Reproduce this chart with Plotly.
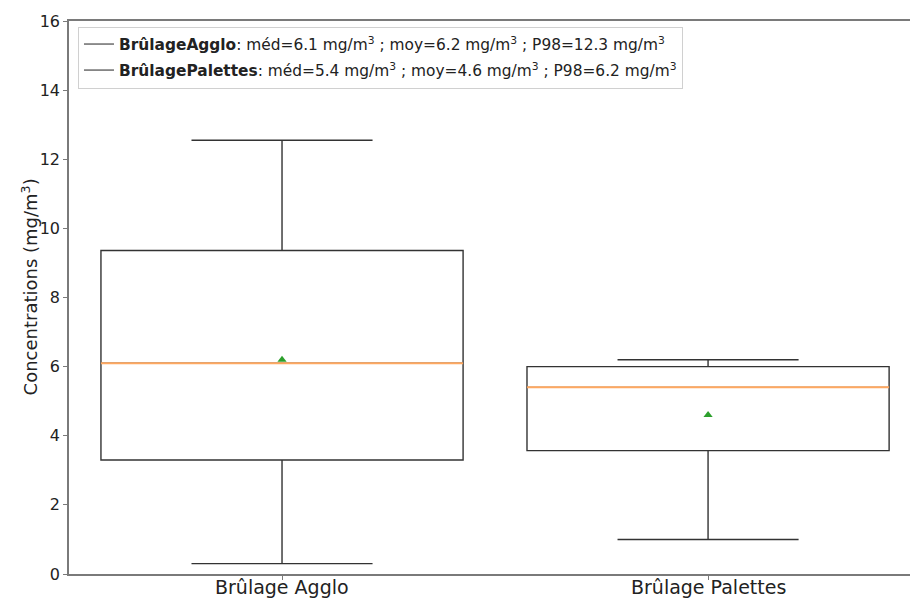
import plotly.graph_objects as go

# Statistiques des concentrations par type de brûlage (mg/m3)
categories = ["Brûlage Agglo", "Brûlage Palettes"]
legend_names = ["BrûlageAgglo", "BrûlagePalettes"]
positions = [1, 2]
whisker_low = [0.3, 1.0]
q1 = [3.3, 3.57]
medians = [6.1, 5.4]
q3 = [9.36, 6.0]
whisker_high = [12.55, 6.2]
means = [6.2, 4.6]
p98 = [12.3, 6.2]
y_ticks = [0, 2, 4, 6, 8, 10, 12, 14, 16]

BOX_WIDTH = 0.85
FONT = "DejaVu Sans"
SPINE = "#7a7a7a"

fig = go.Figure()

for i, pos in enumerate(positions):
    fig.add_trace(go.Box(
        x=[pos], q1=[q1[i]], median=[medians[i]], q3=[q3[i]],
        lowerfence=[whisker_low[i]], upperfence=[whisker_high[i]],
        width=BOX_WIDTH, whiskerwidth=0.5,
        line=dict(color="#333333", width=1.4),
        fillcolor="rgba(0,0,0,0)", boxpoints=False,
        showlegend=False, hoverinfo="skip",
    ))
    # médiane en orange
    fig.add_trace(go.Scatter(
        x=[pos - BOX_WIDTH / 2, pos + BOX_WIDTH / 2], y=[medians[i], medians[i]],
        mode="lines", line=dict(color="#ffa860", width=2),
        showlegend=False, hoverinfo="skip",
    ))
    # moyenne
    fig.add_trace(go.Scatter(
        x=[pos], y=[means[i]], mode="markers",
        marker=dict(symbol="triangle-up", color="#2ca02c", size=8),
        showlegend=False, hoverinfo="skip",
    ))

# Entrées de légende avec les statistiques résumées
for i, name in enumerate(legend_names):
    label = (f"<b>{name}</b>: méd={medians[i]:.1f} mg/m<sup>3</sup> ; "
             f"moy={means[i]:.1f} mg/m<sup>3</sup> ; P98={p98[i]:.1f} mg/m<sup>3</sup>")
    fig.add_trace(go.Scatter(
        x=[None], y=[None], mode="lines", name=label,
        line=dict(color="#222222", width=1), legendgroup=name,
    ))

# Libellés des catégories, placés juste sous l'axe
category_labels = [
    dict(text=cat, x=pos, xref="x", y=0, yref="paper",
         xanchor="center", yanchor="top", yshift=-1, borderpad=0, showarrow=False,
         font=dict(family=FONT, size=19, color="#222222"))
    for cat, pos in zip(categories, positions)
]

fig.update_layout(
    width=910, height=600,
    margin=dict(l=69, r=0, t=21, b=26),
    paper_bgcolor="white", plot_bgcolor="white",
    font=dict(family=FONT, color="#222222"),
    showlegend=True,
    legend=dict(
        x=0.0107, y=0.99, xanchor="left", yanchor="top",
        bgcolor="white", bordercolor="#d0d0d0", borderwidth=1,
        font=dict(family=FONT, size=15.4, color="#222222"),
        tracegroupgap=3,
    ),
    xaxis=dict(
        range=[0.5, 2.474], tickmode="array", tickvals=positions,
        showticklabels=False,
        showgrid=False, zeroline=False, showline=True, linecolor=SPINE, linewidth=1.5,
        mirror=True, ticks="outside", ticklen=4, tickcolor=SPINE, automargin=False,
    ),
    yaxis=dict(
        range=[0, 16], tickmode="array", tickvals=y_ticks,
        showgrid=False, zeroline=False, showline=True, linecolor=SPINE, linewidth=1.5,
        ticks="outside", ticklen=4, tickcolor=SPINE, automargin=False,
        tickfont=dict(family=FONT, size=16, color="#222222"),
    ),
    annotations=[dict(
        text="Concentrations (mg/m<sup>3</sup>)", textangle=-90,
        xref="paper", yref="paper", x=-0.0464, y=0.52,
        xanchor="center", yanchor="middle", showarrow=False,
        font=dict(family=FONT, size=18, color="#222222"),
    )] + category_labels,
)

fig.write_html("out.html")
